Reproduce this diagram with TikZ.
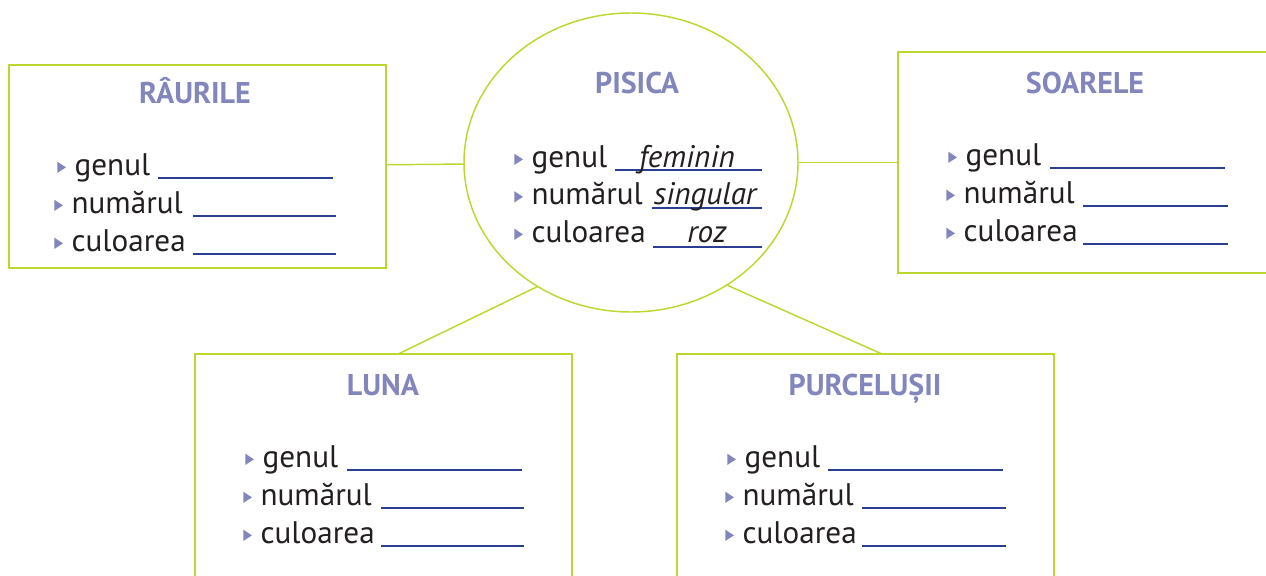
\documentclass[tikz,border=0pt]{standalone}
\usepackage{fontspec}
\setmainfont{PT Sans}
\usetikzlibrary{shapes.geometric}

\definecolor{limegreen}{RGB}{190,214,48}
\definecolor{titleblue}{RGB}{131,134,188}
\definecolor{blankblue}{RGB}{44,62,145}
\definecolor{inkblack}{RGB}{35,31,32}

\newcommand{\tri}{\tikz[baseline=-1.5pt]\fill[titleblue] (0pt,0pt) -- (0pt,8.5pt) -- (6.5pt,4.25pt) -- cycle;\hspace{6.5pt}}

\tikzset{
  panel/.style={draw=limegreen, line width=1.1pt, fill=white, rectangle, inner sep=0pt, outer sep=0pt},
  bubble/.style={draw=limegreen, line width=1.1pt, fill=white, ellipse, inner sep=0pt, outer sep=0pt,
    minimum width=250.5pt, minimum height=224.25pt},
  link/.style={draw=limegreen, line width=1.1pt},
  heading/.style={font=\fontsize{22.5}{26}\selectfont\bfseries, text=titleblue, anchor=base, inner sep=0pt},
  item/.style={font=\fontsize{23.4}{28}\selectfont, text=inkblack, anchor=base west, inner sep=0pt},
  answer/.style={font=\fontsize{23.4}{28}\selectfont\itshape, text=inkblack, anchor=base, inner sep=0pt},
  blank/.style={draw=blankblue, line width=1.1pt},
}

\begin{document}
\begin{tikzpicture}[x=0.75pt, y=-0.75pt]
        \useasboundingbox (0,0) rectangle (1266,575);

        % Frames
        \node[panel, minimum width=282.75pt, minimum height=152.25pt] (raurile) at (197.5,166.5) {};
        \node[panel, minimum width=286.5pt, minimum height=165.75pt] (soarele) at (1089,162.5) {};
        \node[panel, minimum width=282.75pt, minimum height=184.5pt] (luna) at (383.5,477) {};
        \node[panel, minimum width=282.75pt, minimum height=184.5pt] (purcelusii) at (865.5,477) {};
        \node[bubble] (pisica) at (631,162.5) {};

        % Links
        \draw[link] (raurile) -- (pisica);
        \draw[link] (pisica) -- (soarele);
        \draw[link] (pisica.233) -- ([xshift=11pt]luna.north);
        \draw[link] (pisica.308) -- ([xshift=12.4pt]purcelusii.north);

        % Centre
        \node[heading] (pisicaT) at (637,93) {PISICA};
        \node[item] (pisica1) at (514,167) {\tri genul};
        \draw[blank] (615,170) -- (762,170);
        \node[answer] (pisicaA1) at (687,167) {feminin};
        \node[item] (pisica2) at (514,204.5) {\tri numărul};
        \draw[blank] (652,208) -- (762,208);
        \node[answer] (pisicaA2) at (705,204.5) {singular};
        \node[item] (pisica3) at (514,242) {\tri culoarea};
        \draw[blank] (653,247) -- (762,247);
        \node[answer] (pisicaA3) at (707,242) {roz};

        % Left
        \node[heading] (raurileT) at (195,103) {RÂURILE};
        \node[item] (raurile1) at (57,175) {\tri genul};
        \draw[blank] (158,178) -- (333,178);
        \node[item] (raurile2) at (54,213) {\tri numărul};
        \draw[blank] (193,216) -- (336,216);
        \node[item] (raurile3) at (54,251) {\tri culoarea};
        \draw[blank] (193,254) -- (336,254);

        % Right
        \node[heading] (soareleT) at (1085,93) {SOARELE};
        \node[item] (soarele1) at (948,165) {\tri genul};
        \draw[blank] (1050,168) -- (1225,168);
        \node[item] (soarele2) at (946,203) {\tri numărul};
        \draw[blank] (1083,206) -- (1228,206);
        \node[item] (soarele3) at (946,241) {\tri culoarea};
        \draw[blank] (1083,244) -- (1228,244);

        % Bottom left
        \node[heading] (lunaT) at (383,395) {LUNA};
        \node[item] (luna1) at (245,467) {\tri genul};
        \draw[blank] (347,470) -- (522,470);
        \node[item] (luna2) at (243,505) {\tri numărul};
        \draw[blank] (381,508) -- (524,508);
        \node[item] (luna3) at (243,543) {\tri culoarea};
        \draw[blank] (381,546) -- (524,546);

        % Bottom right
        \node[heading] (purcelusiiT) at (865,395) {PURCELUȘII};
        \node[item] (purcelusii1) at (727,467) {\tri genul};
        \draw[blank] (828,470) -- (1003,470);
        \node[item] (purcelusii2) at (725,505) {\tri numărul};
        \draw[blank] (862,508) -- (1006,508);
        \node[item] (purcelusii3) at (725,543) {\tri culoarea};
        \draw[blank] (862,546) -- (1006,546);
    \end{tikzpicture}
\end{document}
